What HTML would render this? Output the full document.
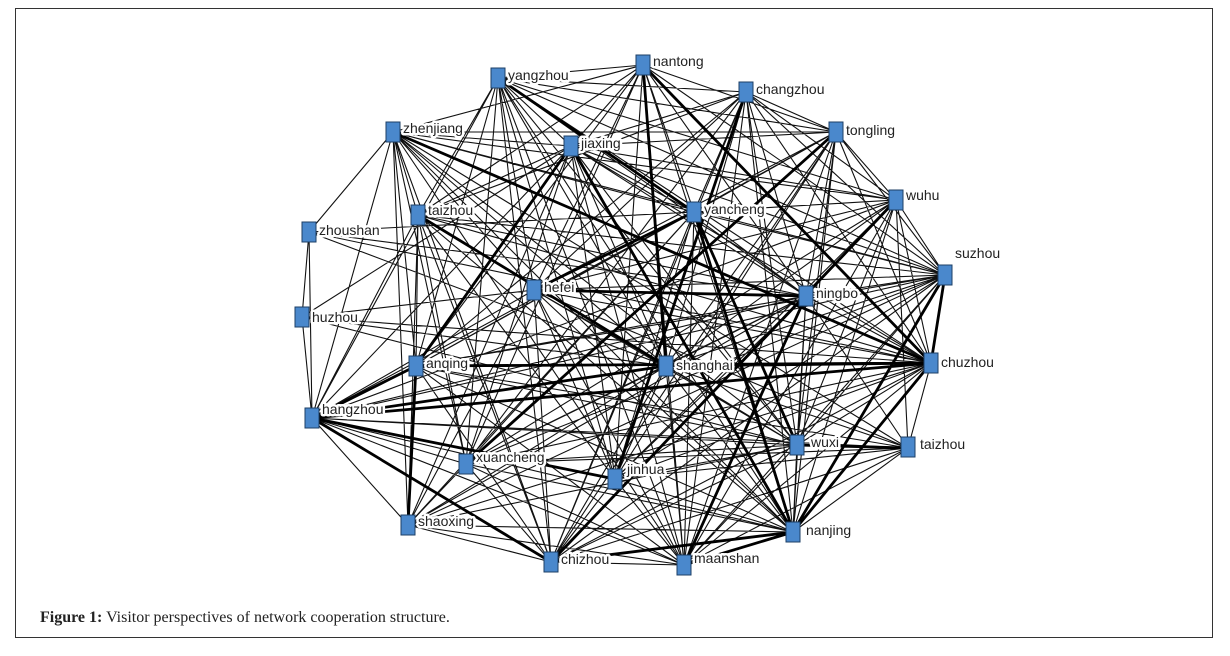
<!DOCTYPE html>
<html><head><meta charset="utf-8"><style>
html,body{margin:0;padding:0;background:#fff;}
body{width:1230px;height:656px;position:relative;overflow:hidden;}
#frame{position:absolute;left:15px;top:8px;width:1198px;height:630px;border:1px solid #333;box-sizing:border-box;}
#cap{position:absolute;left:40px;top:609px;font-family:"Liberation Serif",serif;font-size:16px;color:#222;}
svg{position:absolute;left:0;top:0;}
text{font-family:"Liberation Sans",sans-serif;font-size:14px;fill:#222;stroke:#fff;stroke-width:5px;paint-order:stroke;stroke-linejoin:round;}
</style></head><body>
<div id="frame"></div>
<svg width="1230" height="656" viewBox="0 0 1230 656">
<g stroke="#111" fill="none" stroke-width="1.1">
<path d="
M498 78L643 65 M498 78L571 146 M498 78L694 212 M498 78L418 215 M498 78L534 290 M498 78L666 366 M498 78L806 296 M498 78L945 275 M498 78L931 363 M498 78L797 445 M498 78L793 532 M498 78L896 200 M498 78L836 132 M498 78L746 92 M498 78L615 479 M498 78L684 565 M498 78L551 562 M498 78L416 366 M498 78L466 464
M393 132L571 146 M393 132L694 212 M393 132L418 215 M393 132L416 366 M393 132L666 366 M393 132L945 275 M393 132L797 445 M393 132L408 525 M393 132L466 464 M393 132L534 290 M393 132L836 132 M393 132L896 200 M393 132L793 532 M393 132L684 565 M393 132L551 562 M393 132L643 65 M393 132L309 232 M393 132L908 448
M418 215L643 65 M418 215L571 146 M418 215L666 366 M418 215L551 562 M418 215L466 464 M418 215L408 525 M418 215L615 479 M418 215L793 532 M418 215L806 296 M418 215L945 275 M418 215L746 92 M418 215L797 445 M418 215L416 366
M309 232L302 317 M309 232L694 212 M309 232L666 366 M309 232L931 363 M309 232L806 296
M302 317L312 418 M302 317L666 366 M302 317L797 445 M302 317L931 363 M302 317L571 146 M302 317L534 290
M312 418L309 232 M312 418L534 290 M312 418L571 146 M312 418L694 212 M312 418L806 296 M312 418L797 445 M312 418L908 448 M312 418L466 464 M312 418L615 479 M312 418L408 525 M312 418L793 532 M312 418L551 562 M312 418L684 565 M312 418L418 215 M312 418L393 132 M312 418L945 275 M312 418L896 200 M312 418L498 78
M416 366L571 146 M416 366L694 212 M416 366L806 296 M416 366L797 445 M416 366L908 448 M416 366L793 532 M416 366L551 562 M416 366L408 525 M416 366L684 565 M416 366L945 275 M416 366L836 132 M416 366L643 65 M416 366L746 92
M666 366L643 65 M666 366L746 92 M666 366L836 132 M666 366L896 200 M666 366L945 275 M666 366L806 296 M666 366L797 445 M666 366L908 448 M666 366L793 532 M666 366L684 565 M666 366L551 562 M666 366L466 464 M666 366L615 479 M666 366L408 525 M666 366L534 290 M666 366L571 146
M931 363L643 65 M931 363L746 92 M931 363L836 132 M931 363L896 200 M931 363L571 146 M931 363L534 290 M931 363L806 296 M931 363L797 445 M931 363L908 448 M931 363L793 532 M931 363L684 565 M931 363L551 562 M931 363L466 464 M931 363L615 479 M931 363L408 525 M931 363L418 215
M945 275L643 65 M945 275L746 92 M945 275L836 132 M945 275L896 200 M945 275L571 146 M945 275L534 290 M945 275L806 296 M945 275L797 445 M945 275L793 532 M945 275L684 565 M945 275L551 562 M945 275L466 464 M945 275L615 479 M945 275L408 525
M694 212L643 65 M694 212L746 92 M694 212L836 132 M694 212L896 200 M694 212L571 146 M694 212L806 296 M694 212L797 445 M694 212L793 532 M694 212L684 565 M694 212L551 562 M694 212L466 464 M694 212L615 479 M694 212L408 525 M694 212L945 275
M571 146L643 65 M571 146L746 92 M571 146L836 132 M571 146L896 200 M571 146L806 296 M571 146L797 445 M571 146L793 532 M571 146L684 565 M571 146L466 464 M571 146L615 479 M571 146L408 525
M534 290L643 65 M534 290L746 92 M534 290L836 132 M534 290L896 200 M534 290L806 296 M534 290L797 445 M534 290L793 532 M534 290L684 565 M534 290L551 562 M534 290L615 479 M534 290L408 525 M534 290L908 448
M806 296L643 65 M806 296L746 92 M806 296L836 132 M806 296L896 200 M806 296L797 445 M806 296L793 532 M806 296L684 565 M806 296L551 562 M806 296L466 464 M806 296L615 479 M806 296L408 525 M806 296L908 448
M793 532L643 65 M793 532L746 92 M793 532L836 132 M793 532L896 200 M793 532L797 445 M793 532L908 448 M793 532L684 565 M793 532L551 562 M793 532L466 464 M793 532L615 479 M793 532L408 525
M797 445L908 448 M797 445L746 92 M797 445L836 132 M797 445L896 200 M797 445L466 464 M797 445L615 479 M797 445L551 562 M797 445L684 565 M797 445L408 525
M466 464L643 65 M466 464L746 92 M466 464L896 200 M466 464L551 562 M466 464L684 565 M466 464L908 448 M466 464L408 525
M615 479L643 65 M615 479L836 132 M615 479L896 200 M615 479L551 562 M615 479L684 565 M615 479L908 448
M551 562L684 565 M551 562L408 525 M551 562L746 92 M551 562L836 132 M551 562L908 448
M684 565L643 65 M684 565L746 92 M684 565L836 132 M684 565L896 200 M684 565L408 525 M684 565L908 448
M896 200L836 132 M896 200L945 275 M896 200L746 92 M896 200L908 448 M836 132L746 92 M836 132L643 65 M908 448L931 363
"/>
</g>
<g stroke="#000" fill="none" stroke-width="2.8">
<path d="M312 418L931 363 M312 418L416 366 M416 366L931 363 M534 290L694 212 M666 366L931 363 M571 146L793 532 M694 212L793 532 M931 363L945 275 M312 418L666 366 M393 132L931 363 M643 65L931 363 M498 78L694 212 M418 215L666 366 M466 464L836 132 M416 366L571 146 M551 562L896 200 M793 532L931 363 M684 565L806 296 M312 418L551 562 M643 65L666 366 M746 92L615 479 M793 532L945 275 M408 525L416 366 M551 562L793 532 M534 290L806 296 M684 565L793 532 M797 445L694 212 M908 448L797 445 M312 418L615 479"/>
</g>
<g>
<text x="508" y="80">yangzhou</text><text x="653" y="66">nantong</text><text x="756" y="94">changzhou</text>
<text x="403" y="133">zhenjiang</text><text x="581" y="148">jiaxing</text><text x="846" y="135">tongling</text>
<text x="906" y="200">wuhu</text><text x="704" y="214">yancheng</text><text x="428" y="215">taizhou</text>
<text x="319" y="235">zhoushan</text><text x="955" y="258">suzhou</text><text x="544" y="292">hefei</text>
<text x="816" y="298">ningbo</text><text x="312" y="322">huzhou</text><text x="426" y="368">anqing</text>
<text x="676" y="370">shanghai</text><text x="941" y="367">chuzhou</text><text x="322" y="414">hangzhou</text>
<text x="811" y="447">wuxi</text><text x="920" y="449">taizhou</text><text x="476" y="462">xuancheng</text>
<text x="627" y="474">jinhua</text><text x="418" y="526">shaoxing</text><text x="806" y="535">nanjing</text>
<text x="561" y="564">chizhou</text><text x="694" y="563">maanshan</text>
</g>
<g fill="#4a88cc" stroke="#1d3f66" stroke-width="1">
<rect x="491" y="68" width="14" height="20"/><rect x="636" y="55" width="14" height="20"/><rect x="739" y="82" width="14" height="20"/>
<rect x="386" y="122" width="14" height="20"/><rect x="564" y="136" width="14" height="20"/><rect x="829" y="122" width="14" height="20"/>
<rect x="889" y="190" width="14" height="20"/><rect x="687" y="202" width="14" height="20"/><rect x="411" y="205" width="14" height="20"/>
<rect x="302" y="222" width="14" height="20"/><rect x="938" y="265" width="14" height="20"/><rect x="527" y="280" width="14" height="20"/>
<rect x="799" y="286" width="14" height="20"/><rect x="295" y="307" width="14" height="20"/><rect x="409" y="356" width="14" height="20"/>
<rect x="659" y="356" width="14" height="20"/><rect x="924" y="353" width="14" height="20"/><rect x="305" y="408" width="14" height="20"/>
<rect x="790" y="435" width="14" height="20"/><rect x="901" y="437" width="14" height="20"/><rect x="459" y="454" width="14" height="20"/>
<rect x="608" y="469" width="14" height="20"/><rect x="401" y="515" width="14" height="20"/><rect x="786" y="522" width="14" height="20"/>
<rect x="544" y="552" width="14" height="20"/><rect x="677" y="555" width="14" height="20"/>
</g>
</svg>
<div id="cap"><b>Figure 1:</b> Visitor perspectives of network cooperation structure.</div>
</body></html>
